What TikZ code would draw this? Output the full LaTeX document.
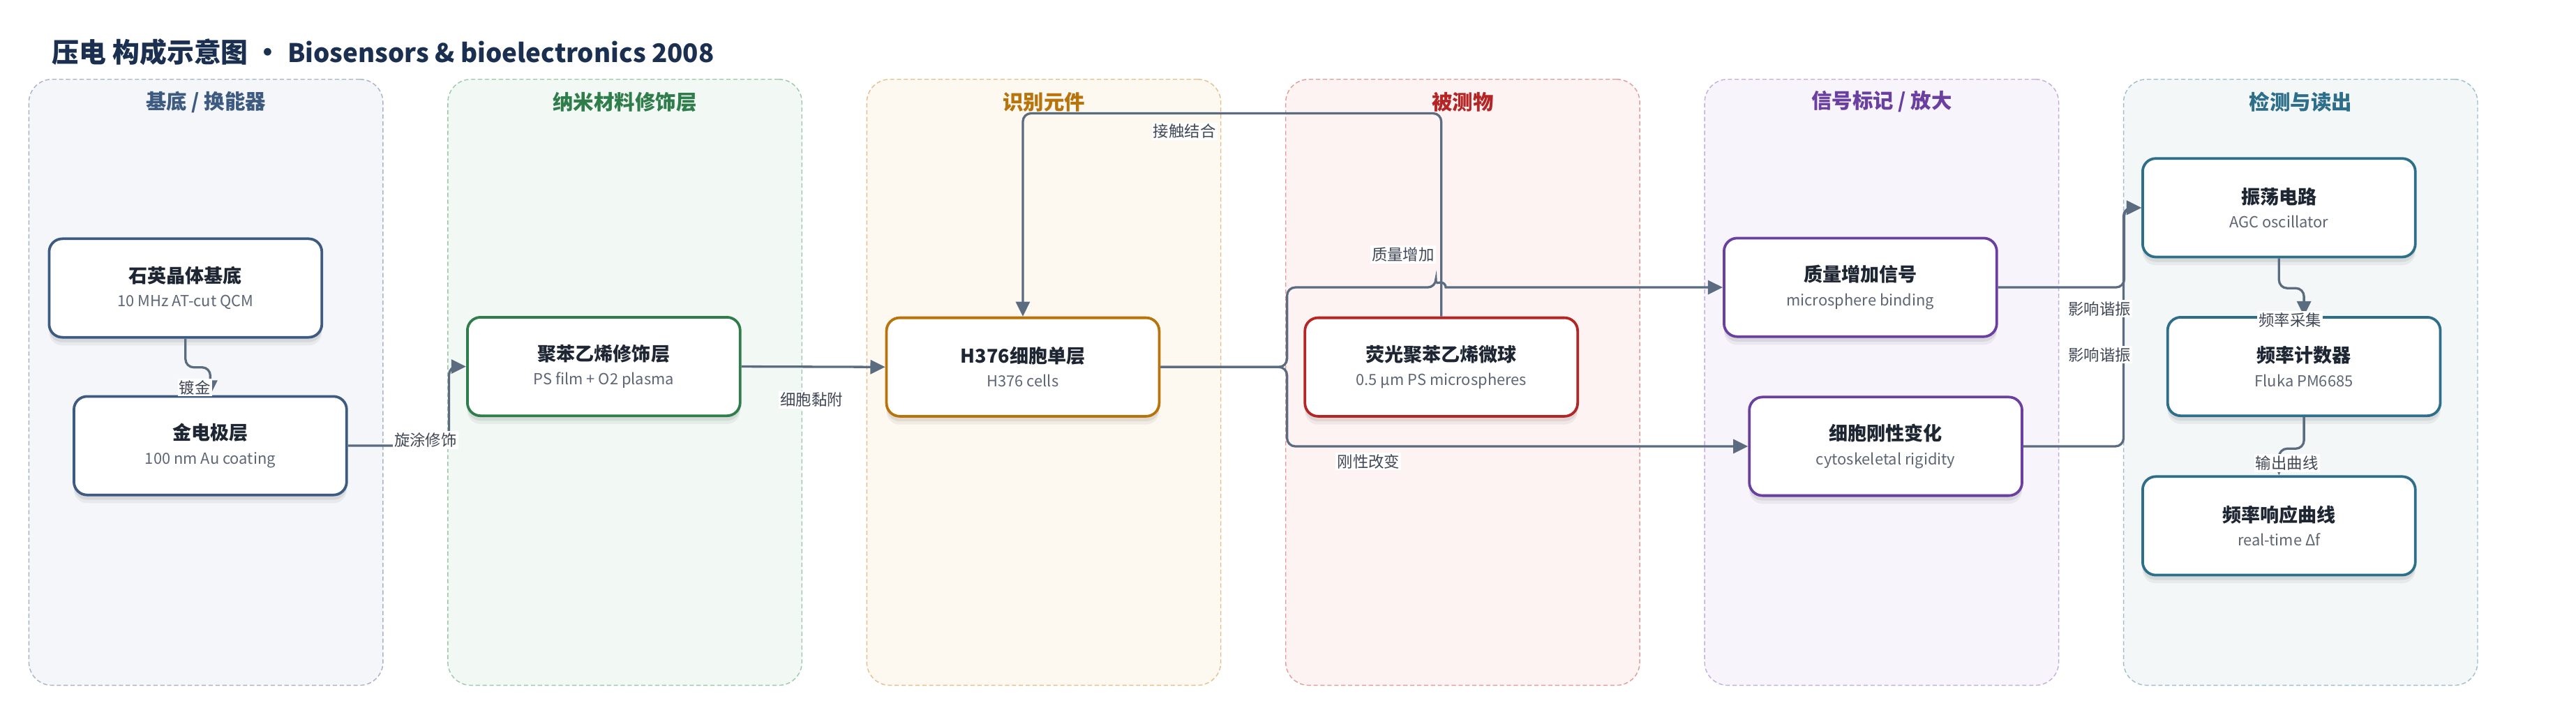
\documentclass[tikz,border=0pt]{standalone}
\usepackage{fontspec}
\setmainfont{Noto Sans CJK SC}
\usepackage{tikz}
\usetikzlibrary{arrows.meta}
\usetikzlibrary{shadows}

\definecolor{titleink}{HTML}{1B3050}
\definecolor{textink}{HTML}{1F2633}
\definecolor{subink}{HTML}{5E6675}
\definecolor{labelink}{HTML}{404755}
\definecolor{linkgray}{HTML}{5B6B80}
% lane colours: dark = title and box border, line = dashed frame, bg = fill
\definecolor{subsdark}{HTML}{3D5A80}\definecolor{subsline}{HTML}{A7B3C9}\definecolor{subsbg}{HTML}{F5F6FA}
\definecolor{nanodark}{HTML}{2E7D4B}\definecolor{nanoline}{HTML}{9CC9AA}\definecolor{nanobg}{HTML}{F2F8F4}
\definecolor{recogdark}{HTML}{B8730A}\definecolor{recogline}{HTML}{E5C08C}\definecolor{recogbg}{HTML}{FDF8F0}
\definecolor{targdark}{HTML}{B52525}\definecolor{targline}{HTML}{E49C99}\definecolor{targbg}{HTML}{FDF3F2}
\definecolor{sigdark}{HTML}{6B3FA0}\definecolor{sigline}{HTML}{C5AEDF}\definecolor{sigbg}{HTML}{F7F4FB}
\definecolor{readdark}{HTML}{2D6E8A}\definecolor{readline}{HTML}{A0BFCC}\definecolor{readbg}{HTML}{F3F7F8}

\newcommand{\ntitle}[1]{{\fontsize{11.5}{14.6}\selectfont\bfseries\color{textink}#1}}
\newcommand{\nsub}[1]{{\fontsize{9.3}{14.6}\selectfont\color{subink}#1}}
\newcommand{\bnode}[5]{\node(#1)[item,draw=#2dark] at (#3){\ntitle{#4}\\\nsub{#5}}}
\newcommand{\lane}[3]{\node(#1)[lane,draw=#1line,fill=#1bg] at (#2,48){};
  \node(#1title)[lanetitle,text=#1dark] at ([yshift=-14pt]#1.north){#3}}

\begin{document}
\begin{tikzpicture}[
        x=1pt, y=-1pt,
        lane/.style={rectangle,anchor=north west,minimum width=215.5pt,minimum height=369pt,
                     rounded corners=14pt,line width=0.6pt,dash pattern=on 2.6pt off 1.6pt,inner sep=0pt},
        lanetitle/.style={font=\fontsize{12.5}{15}\selectfont\bfseries,inner sep=0pt},
        item/.style={rectangle,minimum width=166pt,minimum height=60pt,inner sep=2pt,
                     rounded corners=8pt,line width=1.6pt,fill=white,align=center,
                     font=\fontsize{10}{14.6}\selectfont,
                     drop shadow={shadow xshift=0pt,shadow yshift=-5pt,opacity=.05,fill=black},
                     drop shadow={shadow xshift=0pt,shadow yshift=-3pt,opacity=.07,fill=black}},
        link/.style={draw=linkgray,line width=1.4pt,rounded corners=5pt,
                     -{Triangle[length=9pt,width=8.5pt]}},
        elabel/.style={fill=white,inner sep=1pt,text=labelink,font=\fontsize{9.5}{11}\selectfont}
      ]
      \useasboundingbox (0,0) rectangle (1568,428);

      % Lanes, left to right
      \lane{subs}{17.3}{基底 / 换能器};
      \lane{nano}{272.3}{纳米材料修饰层};
      \lane{recog}{527.3}{识别元件};
      \lane{targ}{782.3}{被测物};
      \lane{sig}{1037.3}{信号标记 / 放大};
      \lane{read}{1292.3}{检测与读出};

      % Heading
      \node(heading)[anchor=base west,inner sep=0pt,text=titleink,
        font=\fontsize{16.5}{20}\selectfont\bfseries] at (31.6,38.2)
        {压电 构成示意图 · {\fontsize{15.6}{20}\selectfont Biosensors \& bioelectronics 2008}};

      % Boxes
      \bnode{quartz}{subs}{112.9,175.4}{石英晶体基底}{10 MHz AT-cut QCM};
      \bnode{gold}{subs}{128,271.4}{金电极层}{100 nm Au coating};
      \bnode{poly}{nano}{367.5,223.2}{聚苯乙烯修饰层}{PS film + O2 plasma};
      \bnode{cells}{recog}{622.6,223.5}{H376细胞单层}{H376 cells};
      \bnode{beads}{targ}{877.3,223.5}{荧光聚苯乙烯微球}{0.5 μm PS microspheres};
      \bnode{mass}{sig}{1132.4,175}{质量增加信号}{microsphere binding};
      \bnode{rigid}{sig}{1147.8,271.8}{细胞刚性变化}{cytoskeletal rigidity};
      \bnode{osc}{read}{1387.2,126.5}{振荡电路}{AGC oscillator};
      \bnode{counter}{read}{1402.4,223.2}{频率计数器}{Fluka PM6685};
      \bnode{curve}{read}{1387.2,320.2}{频率响应曲线}{real-time Δf};

      % Connectors
      \draw[link] (quartz.south) -- ++(0,17.5) -| (gold.north);
      \draw[link] (gold.east) -- ++(61.5,0) |- (poly.west);
      \draw[link] (poly.east) -- (cells.west);
      \draw[link] (beads.north) -- ++(0,-123.7) -| (cells.north);
      \draw[link] (cells.east) -- ++(77,0) |- (874,175) [sharp corners]
        arc[start angle=180,end angle=360,radius=3] -- (mass.west);
      \draw[link] (cells.east) -- ++(77,0) |- (rigid.west);
      \draw[link] (mass.east) -- ++(76.8,0) |- (osc.west);
      \draw[link] (rigid.east) -- ++(61,0) |- (osc.west);
      \draw[link] (osc.south) -- ++(0,18.2) -| (counter.north);
      \draw[link] (counter.south) -- ++(0,19.2) -| (curve.north);

      % Connector labels
      \node(plating)[elabel] at (118.6,236) {镀金};
      \node(spin)[elabel] at (259,268) {旋涂修饰};
      \node(adhesion)[elabel] at (494,243.5) {细胞黏附};
      \node(contact)[elabel] at (721,80) {接触结合};
      \node(massup)[elabel] at (854,155) {质量增加};
      \node(stiff)[elabel] at (833,281) {刚性改变};
      \node(reso1)[elabel] at (1278,188) {影响谐振};
      \node(reso2)[elabel] at (1278,216) {影响谐振};
      \node(sample)[elabel] at (1394,195) {频率采集};
      \node(output)[elabel] at (1392,282) {输出曲线};
\end{tikzpicture}
\end{document}
